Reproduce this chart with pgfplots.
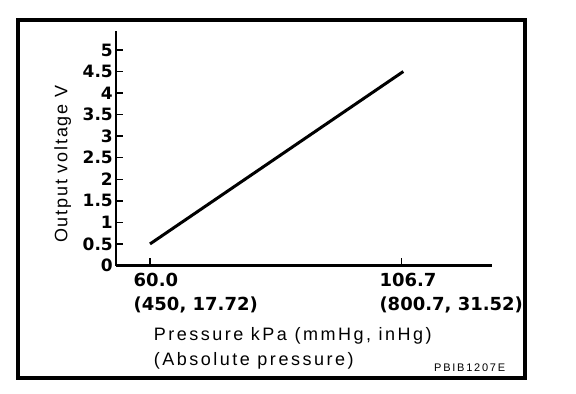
\documentclass[border=0pt]{standalone}
\usepackage{fontspec}
\setmainfont{Liberation Sans}
\newfontfamily\tickfont{DejaVu Sans}
\newfontfamily\labelfont[LetterSpace=14]{Liberation Sans}
\newfontfamily\ylabfont[LetterSpace=10]{Liberation Sans}
\newfontfamily\codefont[LetterSpace=16]{Liberation Sans}
\usepackage{pgfplots}
\pgfplotsset{compat=1.18}
\begin{document}
\begin{tikzpicture}
\path[use as bounding box] (0,0) rectangle (576bp,394bp);
\draw[line width=4bp] (18.3bp,373.5bp) rectangle (524.7bp,16bp);
\begin{axis}[
  at={(116bp,128.5bp)}, anchor=south west,
  scale only axis, width=375.7bp, height=234.5bp,
  xmin=53.69, xmax=123.4, ymin=0, ymax=5.44,
  axis x line*=bottom, axis y line*=left,
  axis line style={line width=2bp},
  tick align=inside,
  major tick length=7bp,
  tick style={line width=1.5bp, black},
  ytick={0,0.5,1,1.5,2,2.5,3,3.5,4,4.5,5},
  yticklabels={0,0.5,1,1.5,2,2.5,3,3.5,4,4.5,5},
  yticklabel style={font=\tickfont\bfseries\fontsize{17bp}{20bp}\selectfont, anchor=east, inner sep=0pt, xshift=-3bp},
  xtick={60},
  xticklabels={{60.0\\(450{,} 17.72)}},
  xticklabel style={font=\tickfont\bfseries\fontsize{18bp}{24.3bp}\selectfont, anchor=north west, align=left, inner sep=0pt, xshift=-16.5bp, yshift=-7bp},
  extra x ticks={106.7},
  extra x tick labels={{106.7\\(800.7{,} 31.52)}},
  extra x tick style={xticklabel style={xshift=-5.9bp}},
  xlabel={Pressure kPa (mmHg, inHg)\\(Absolute pressure)},
  xlabel style={font=\labelfont\fontsize{18bp}{25.7bp}\selectfont, align=left, anchor=north west, inner sep=0pt, at={(axis description cs:0.1,-0.262)}},
  ylabel={Output voltage V},
  ylabel style={font=\ylabfont\fontsize{18bp}{20bp}\selectfont, anchor=base, inner sep=0pt, at={(axis description cs:-0.1296,0.432)}},
  clip=false,
]
\addplot[line width=3bp, black] coordinates {(60,0.5) (107,4.5)};
\end{axis}
\node[anchor=base west, inner sep=0pt, font=\codefont\fontsize{11bp}{12bp}\selectfont] at (434bp,22.3bp) {PBIB1207E};
\end{tikzpicture}
\end{document}
